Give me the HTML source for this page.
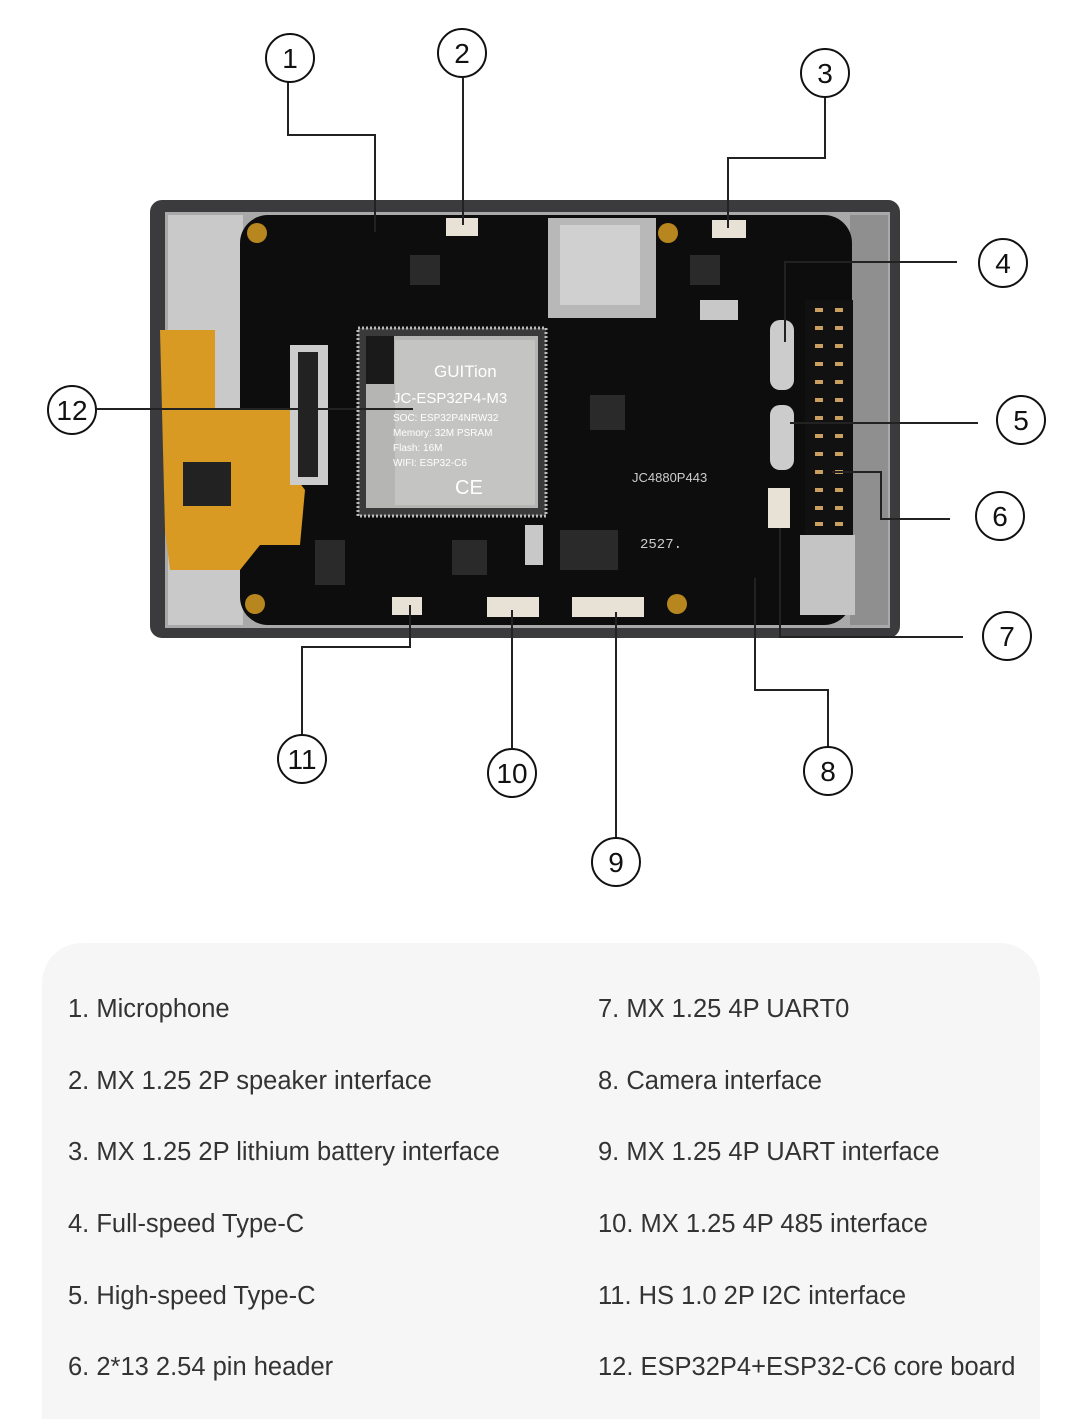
<!DOCTYPE html>
<html><head><meta charset="utf-8"><style>
html,body{margin:0;padding:0;background:#fff;width:1080px;height:1419px;overflow:hidden;font-family:"Liberation Sans",sans-serif;position:relative}
.abs{position:absolute}
.legend{position:absolute;left:42px;top:943px;width:998px;height:520px;background:#f6f6f6;border-radius:40px}
.t{position:absolute;font-size:25.5px;color:#333;white-space:nowrap;line-height:30px}
</style></head><body>
<svg class="abs" style="left:0;top:0" width="1080" height="940">
 <rect x="150" y="200" width="750" height="438" rx="12" fill="#3b3b3d"/>
 <rect x="165" y="212" width="725" height="416" fill="#a9a9a9"/>
 <rect x="168" y="215" width="75" height="410" fill="#c9c9c9"/>
 <rect x="850" y="215" width="38" height="410" fill="#8f8f8f"/>
 <rect x="240" y="215" width="612" height="410" rx="28" fill="#0d0d0d"/>
 <path d="M160 330 L215 330 L215 410 L290 410 L290 470 L305 490 L300 545 L260 545 L240 570 L170 570 L165 530 L160 330 Z" fill="#d89a22"/>
 <rect x="183" y="462" width="48" height="44" fill="#222"/>
 <rect x="290" y="345" width="38" height="140" fill="#ccc"/>
 <rect x="298" y="352" width="20" height="125" fill="#222"/>
 <rect x="358" y="328" width="188" height="188" fill="#3a3a3a" stroke="#bbb" stroke-width="3" stroke-dasharray="2 2"/>
 <rect x="366" y="336" width="172" height="172" fill="#b5b5b3"/>
 <rect x="395" y="340" width="140" height="165" fill="#c4c4c2"/>
 <rect x="366" y="336" width="28" height="48" fill="#1a1a1a"/>
 <text x="434" y="377" font-size="17" fill="#fff" font-family="Liberation Sans">GUITion</text>
 <text x="393" y="403" font-size="15" fill="#fff" font-family="Liberation Sans">JC-ESP32P4-M3</text>
 <text x="393" y="421" font-size="10" fill="#fff" font-family="Liberation Sans">SOC:  ESP32P4NRW32</text>
 <text x="393" y="436" font-size="10" fill="#fff" font-family="Liberation Sans">Memory:  32M PSRAM</text>
 <text x="393" y="451" font-size="10" fill="#fff" font-family="Liberation Sans">Flash:  16M</text>
 <text x="393" y="466" font-size="10" fill="#fff" font-family="Liberation Sans">WIFI:  ESP32-C6</text>
 <text x="455" y="494" font-size="20" fill="#fff" font-family="Liberation Sans">CE</text>
 <rect x="548" y="218" width="108" height="100" fill="#b8b8b8"/>
 <rect x="560" y="225" width="80" height="80" fill="#d0d0d0"/>
 <rect x="805" y="300" width="48" height="236" fill="#111"/>
 <g fill="#c9a060">
  <rect x="815" y="308" width="8" height="4"/><rect x="835" y="308" width="8" height="4"/>
  <rect x="815" y="326" width="8" height="4"/><rect x="835" y="326" width="8" height="4"/>
  <rect x="815" y="344" width="8" height="4"/><rect x="835" y="344" width="8" height="4"/>
  <rect x="815" y="362" width="8" height="4"/><rect x="835" y="362" width="8" height="4"/>
  <rect x="815" y="380" width="8" height="4"/><rect x="835" y="380" width="8" height="4"/>
  <rect x="815" y="398" width="8" height="4"/><rect x="835" y="398" width="8" height="4"/>
  <rect x="815" y="416" width="8" height="4"/><rect x="835" y="416" width="8" height="4"/>
  <rect x="815" y="434" width="8" height="4"/><rect x="835" y="434" width="8" height="4"/>
  <rect x="815" y="452" width="8" height="4"/><rect x="835" y="452" width="8" height="4"/>
  <rect x="815" y="470" width="8" height="4"/><rect x="835" y="470" width="8" height="4"/>
  <rect x="815" y="488" width="8" height="4"/><rect x="835" y="488" width="8" height="4"/>
  <rect x="815" y="506" width="8" height="4"/><rect x="835" y="506" width="8" height="4"/>
  <rect x="815" y="522" width="8" height="4"/><rect x="835" y="522" width="8" height="4"/>
 </g>
 <rect x="800" y="535" width="55" height="80" fill="#c4c4c4"/>
 <rect x="770" y="320" width="24" height="70" rx="10" fill="#ccc"/>
 <rect x="770" y="405" width="24" height="65" rx="10" fill="#ccc"/>
 <g fill="#e8e2d6">
  <rect x="446" y="218" width="32" height="18"/>
  <rect x="712" y="220" width="34" height="18"/>
  <rect x="392" y="597" width="30" height="18"/>
  <rect x="487" y="597" width="52" height="20"/>
  <rect x="572" y="597" width="72" height="20"/>
  <rect x="768" y="488" width="22" height="40"/>
 </g>
 <g fill="#b8861e"><circle cx="257" cy="233" r="10"/><circle cx="255" cy="604" r="10"/><circle cx="677" cy="604" r="10"/><circle cx="668" cy="233" r="10"/></g>
 <g fill="#2a2a2a">
  <rect x="560" y="530" width="58" height="40"/><rect x="452" y="540" width="35" height="35"/>
  <rect x="410" y="255" width="30" height="30"/><rect x="690" y="255" width="30" height="30"/>
  <rect x="590" y="395" width="35" height="35"/><rect x="315" y="540" width="30" height="45"/>
 </g>
 <g fill="#c8c8c8"><rect x="525" y="525" width="18" height="40"/><rect x="700" y="300" width="38" height="20"/></g>
 <text x="632" y="482" font-size="13" fill="#ccc" font-family="Liberation Sans">JC4880P443</text>
 <text x="640" y="548" font-size="14" fill="#ccc" font-family="Liberation Mono">2527.</text>
 <g fill="none" stroke="#222" stroke-width="2">
  <polyline points="288,82 288,135 375,135 375,232"/>
  <polyline points="463,78 463,225"/>
  <polyline points="825,98 825,158 728,158 728,228"/>
  <polyline points="957,262 785,262 785,342"/>
  <polyline points="978,423 790,423"/>
  <polyline points="950,519 881,519 881,472 832,472"/>
  <polyline points="963,637 780,637 780,528"/>
  <polyline points="828,747 828,690 755,690 755,578"/>
  <polyline points="616,838 616,612"/>
  <polyline points="512,749 512,610"/>
  <polyline points="302,735 302,647 410,647 410,605"/>
  <polyline points="97,409 413,409"/>
 </g>
 <g fill="#fff" stroke="#111" stroke-width="2">
  <circle cx="290" cy="58" r="24"/><circle cx="462" cy="53" r="24"/><circle cx="825" cy="73" r="24"/>
  <circle cx="1003" cy="263" r="24"/><circle cx="1021" cy="420" r="24"/><circle cx="1000" cy="516" r="24"/>
  <circle cx="1007" cy="636" r="24"/><circle cx="828" cy="771" r="24"/><circle cx="616" cy="862" r="24"/>
  <circle cx="512" cy="773" r="24"/><circle cx="302" cy="759" r="24"/><circle cx="72" cy="410" r="24"/>
 </g>
 <g font-size="28" fill="#111" text-anchor="middle" font-family="Liberation Sans">
  <text x="290" y="68">1</text><text x="462" y="63">2</text><text x="825" y="83">3</text>
  <text x="1003" y="273">4</text><text x="1021" y="430">5</text><text x="1000" y="526">6</text>
  <text x="1007" y="646">7</text><text x="828" y="781">8</text><text x="616" y="872">9</text>
  <text x="512" y="783">10</text><text x="302" y="769">11</text><text x="72" y="420">12</text>
 </g>
</svg>
<div class="legend"></div>
<div class="t" style="left:68px;top:994px">1. Microphone</div>
<div class="t" style="left:68px;top:1066px">2. MX 1.25 2P speaker interface</div>
<div class="t" style="left:68px;top:1137px">3. MX 1.25 2P lithium battery interface</div>
<div class="t" style="left:68px;top:1209px">4. Full-speed Type-C</div>
<div class="t" style="left:68px;top:1281px">5. High-speed Type-C</div>
<div class="t" style="left:68px;top:1352px">6. 2*13 2.54 pin header</div>
<div class="t" style="left:598px;top:994px">7. MX 1.25 4P UART0</div>
<div class="t" style="left:598px;top:1066px">8. Camera interface</div>
<div class="t" style="left:598px;top:1137px">9. MX 1.25 4P UART interface</div>
<div class="t" style="left:598px;top:1209px">10. MX 1.25 4P 485 interface</div>
<div class="t" style="left:598px;top:1281px">11. HS 1.0 2P I2C interface</div>
<div class="t" style="left:598px;top:1352px">12. ESP32P4+ESP32-C6 core board</div>
</body></html>
